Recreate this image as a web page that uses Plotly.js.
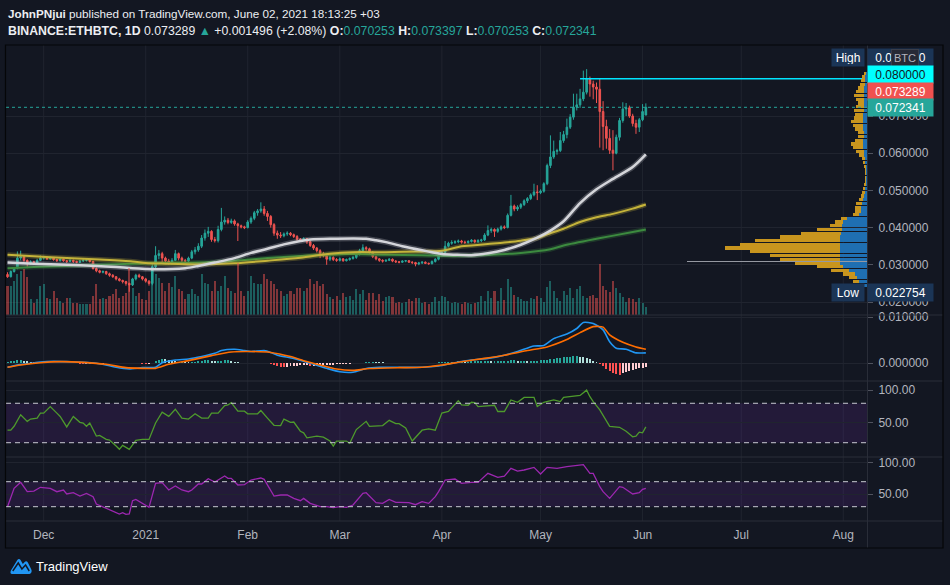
<!DOCTYPE html>
<html><head><meta charset="utf-8">
<script src="https://cdn.plot.ly/plotly-3.0.1.min.js"></script>
<style>html,body{margin:0;padding:0;background:#131722;}#chart{width:950px;height:585px;}</style>
</head><body><div id="chart"></div>
<script>
// ---------- DATA ----------
const startDate = '2020-11-20';   // first daily candle
const open = [
0.0274,0.0268,0.0282,0.0291,0.0318,0.0322,0.0312,0.0303,0.0308,0.0305,
0.0312,0.0318,0.0320,0.0316,0.0319,0.0314,0.0311,0.0315,0.0311,0.0309,
0.0312,0.0309,0.0307,0.0310,0.0312,0.0313,0.0309,0.0290,0.0284,0.0280,
0.0282,0.0276,0.0272,0.0268,0.0262,0.0258,0.0255,0.0250,0.0246,0.0262,
0.0272,0.0268,0.0262,0.0256,0.0250,0.0295,0.0325,0.0330,0.0318,0.0310,
0.0308,0.0312,0.0330,0.0318,0.0312,0.0310,0.0318,0.0335,0.0340,0.0350,
0.0372,0.0385,0.0390,0.0368,0.0365,0.0395,0.0415,0.0420,0.0414,0.0418,
0.0410,0.0405,0.0402,0.0400,0.0415,0.0425,0.0440,0.0445,0.0450,0.0438,
0.0430,0.0408,0.0385,0.0380,0.0378,0.0383,0.0385,0.0381,0.0376,0.0369,
0.0367,0.0370,0.0362,0.0352,0.0345,0.0338,0.0330,0.0325,0.0315,0.0320,
0.0314,0.0312,0.0316,0.0311,0.0314,0.0317,0.0320,0.0328,0.0338,0.0346,
0.0343,0.0334,0.0322,0.0316,0.0312,0.0310,0.0312,0.0315,0.0310,0.0308,
0.0307,0.0310,0.0311,0.0307,0.0306,0.0302,0.0305,0.0307,0.0304,0.0303,
0.0309,0.0315,0.0325,0.0334,0.0350,0.0358,0.0360,0.0362,0.0364,0.0361,
0.0360,0.0363,0.0366,0.0362,0.0365,0.0367,0.0380,0.0392,0.0395,0.0390,
0.0396,0.0402,0.0400,0.0433,0.0458,0.0450,0.0455,0.0462,0.0472,0.0478,
0.0488,0.0496,0.0494,0.0498,0.0518,0.0567,0.0590,0.0605,0.0607,0.0634,
0.0650,0.0670,0.0697,0.0724,0.0730,0.0746,0.0764,0.0800,0.0786,0.0778,
0.0772,0.0712,0.0672,0.0640,0.0608,0.0600,0.0643,0.0688,0.0719,0.0722,
0.0700,0.0680,0.0670,0.0690,0.070253];
const high = [
0.0280,0.0285,0.0294,0.0336,0.0338,0.0326,0.0315,0.0312,0.0311,0.0316,
0.0325,0.0324,0.0323,0.0322,0.0321,0.0316,0.0318,0.0317,0.0313,0.0315,
0.0314,0.0311,0.0313,0.0316,0.0317,0.0315,0.0311,0.0293,0.0287,0.0285,
0.0284,0.0279,0.0275,0.0270,0.0265,0.0260,0.0257,0.0252,0.0265,0.0276,
0.0276,0.0270,0.0265,0.0259,0.0305,0.0350,0.0340,0.0335,0.0322,0.0316,
0.0318,0.0340,0.0333,0.0322,0.0316,0.0322,0.0340,0.0348,0.0358,0.0380,
0.0395,0.0402,0.0393,0.0375,0.0405,0.0453,0.0430,0.0426,0.0424,0.0422,
0.0413,0.0408,0.0405,0.0420,0.0430,0.0445,0.0450,0.0468,0.0458,0.0445,
0.0434,0.0412,0.0392,0.0388,0.0387,0.0390,0.0388,0.0384,0.0380,0.0372,
0.0374,0.0372,0.0365,0.0356,0.0348,0.0342,0.0335,0.0330,0.0325,0.0323,
0.0318,0.0320,0.0318,0.0317,0.0320,0.0324,0.0332,0.0343,0.0355,0.0350,
0.0346,0.0337,0.0325,0.0318,0.0315,0.0315,0.0318,0.0317,0.0313,0.0310,
0.0312,0.0313,0.0313,0.0310,0.0308,0.0308,0.0310,0.0309,0.0306,0.0312,
0.0318,0.0328,0.0338,0.0364,0.0362,0.0366,0.0366,0.0368,0.0367,0.0365,
0.0366,0.0369,0.0368,0.0369,0.0370,0.0385,0.0406,0.0400,0.0398,0.0400,
0.0406,0.0406,0.0438,0.0488,0.0462,0.0460,0.0466,0.0476,0.0482,0.0492,
0.0518,0.0514,0.0503,0.0522,0.0572,0.0648,0.0634,0.0612,0.0657,0.0660,
0.0693,0.0705,0.0760,0.0760,0.0773,0.0822,0.0826,0.0806,0.0795,0.0790,
0.0800,0.0740,0.0690,0.0665,0.0662,0.0650,0.0695,0.0737,0.0735,0.0728,
0.0706,0.0690,0.0695,0.0732,0.073397];
const low = [
0.0265,0.0266,0.0279,0.0288,0.0312,0.0308,0.0291,0.0300,0.0301,0.0303,
0.0310,0.0314,0.0313,0.0314,0.0311,0.0308,0.0309,0.0308,0.0305,0.0307,
0.0305,0.0304,0.0305,0.0308,0.0309,0.0306,0.0287,0.0280,0.0277,0.0277,
0.0273,0.0268,0.0265,0.0258,0.0255,0.0250,0.0244,0.022754,0.0243,0.0258,
0.0265,0.0258,0.0252,0.0244,0.0245,0.0290,0.0315,0.0305,0.0305,0.0300,
0.0300,0.0310,0.0312,0.0305,0.0303,0.0306,0.0315,0.0328,0.0335,0.0345,
0.0365,0.0375,0.0362,0.0360,0.0360,0.0390,0.0408,0.0409,0.0410,0.0405,
0.0364,0.0398,0.0396,0.0398,0.0410,0.0420,0.0432,0.0440,0.0432,0.0418,
0.0400,0.0378,0.0370,0.0372,0.0374,0.0378,0.0377,0.0372,0.0365,0.0362,
0.0364,0.0356,0.0348,0.0340,0.0333,0.0318,0.0320,0.0300,0.0310,0.0310,
0.0308,0.0309,0.0308,0.0309,0.0311,0.0314,0.0316,0.0325,0.0335,0.0338,
0.0330,0.0318,0.0312,0.0308,0.0306,0.0308,0.0310,0.0307,0.0305,0.0304,
0.0305,0.0307,0.0305,0.0302,0.0296,0.0299,0.0302,0.0302,0.0300,0.0301,
0.0306,0.0312,0.0322,0.0330,0.0347,0.0354,0.0356,0.0358,0.0357,0.0356,
0.0357,0.0360,0.0358,0.0359,0.0361,0.0364,0.0377,0.0386,0.0375,0.0386,
0.0392,0.0396,0.0398,0.0430,0.0444,0.0445,0.0450,0.0458,0.0466,0.0474,
0.0484,0.0474,0.0490,0.0494,0.0514,0.0560,0.0585,0.0596,0.0603,0.0628,
0.0640,0.0665,0.0690,0.0715,0.0722,0.0740,0.0758,0.0752,0.0745,0.0735,
0.0615,0.0608,0.0612,0.0598,0.0554,0.0597,0.0634,0.0682,0.0700,0.0695,
0.0672,0.0652,0.0657,0.0686,0.070253];
const close = [
0.0268,0.0282,0.0291,0.0318,0.0322,0.0312,0.0303,0.0308,0.0305,0.0312,
0.0318,0.0320,0.0316,0.0319,0.0314,0.0311,0.0315,0.0311,0.0309,0.0312,
0.0309,0.0307,0.0310,0.0312,0.0313,0.0309,0.0290,0.0284,0.0280,0.0282,
0.0276,0.0272,0.0268,0.0262,0.0258,0.0255,0.0250,0.0246,0.0262,0.0272,
0.0268,0.0262,0.0256,0.0250,0.0295,0.0325,0.0330,0.0318,0.0310,0.0308,
0.0312,0.0330,0.0318,0.0312,0.0310,0.0318,0.0335,0.0340,0.0350,0.0372,
0.0385,0.0390,0.0368,0.0365,0.0395,0.0415,0.0420,0.0414,0.0418,0.0410,
0.0405,0.0402,0.0400,0.0415,0.0425,0.0440,0.0445,0.0450,0.0438,0.0430,
0.0408,0.0385,0.0380,0.0378,0.0383,0.0385,0.0381,0.0376,0.0369,0.0367,
0.0370,0.0362,0.0352,0.0345,0.0338,0.0330,0.0325,0.0315,0.0320,0.0314,
0.0312,0.0316,0.0311,0.0314,0.0317,0.0320,0.0328,0.0338,0.0346,0.0343,
0.0334,0.0322,0.0316,0.0312,0.0310,0.0312,0.0315,0.0310,0.0308,0.0307,
0.0310,0.0311,0.0307,0.0306,0.0302,0.0305,0.0307,0.0304,0.0303,0.0309,
0.0315,0.0325,0.0334,0.0350,0.0358,0.0360,0.0362,0.0364,0.0361,0.0360,
0.0363,0.0366,0.0362,0.0365,0.0367,0.0380,0.0392,0.0395,0.0390,0.0396,
0.0402,0.0400,0.0433,0.0458,0.0450,0.0455,0.0462,0.0472,0.0478,0.0488,
0.0496,0.0494,0.0498,0.0518,0.0567,0.0590,0.0605,0.0607,0.0634,0.0650,
0.0670,0.0697,0.0724,0.0730,0.0746,0.0764,0.0800,0.0786,0.0778,0.0772,
0.0712,0.0672,0.0640,0.0608,0.0600,0.0643,0.0688,0.0719,0.0722,0.0700,
0.0680,0.0670,0.0690,0.0712,0.072341];
const volume = [
29,29,34,41,44,46,38,16,12,16, 29,31,17,16,24,17,14,12,17,17,
12,12,11,11,11,11,19,31,16,17, 16,19,21,26,17,19,22,47,27,19,
22,16,15,24,44,41,37,32,24,32, 28,39,26,24,16,21,26,21,19,41,
32,31,24,34,24,29,39,27,24,22, 52,24,19,24,39,32,31,31,41,36,
34,31,26,24,19,21,24,21,27,27, 24,27,36,31,34,29,31,21,18,16,
19,15,22,18,19,15,26,21,25,15, 22,22,15,21,14,18,19,18,12,13,
12,13,16,14,17,17,12,13,11,13, 18,14,19,18,14,12,13,12,11,13,
12,11,12,13,19,14,24,17,24,14, 27,15,36,28,20,18,16,14,14,17,
16,19,17,13,28,34,24,17,14,24, 20,27,17,26,29,19,17,19,20,17,
51,29,25,23,34,27,22,18,13,17, 16,13,17,12,8];

// moving averages: [day index, value]
const maWhiteIdx = [0,8,18,27,33,38,42,45,54,58,63,69,74,79,84,89,92,98,109,112,115,120,126,129,132,136,141,146,151,156,161,165,169,174,179,184,190,194];
const maWhiteVal = [0.0306,0.0303,0.0300,0.0297,0.0294,0.0291,0.0289,0.0288,0.0291,0.0297,0.0306,0.0318,0.0332,0.0343,0.0355,0.0364,0.0368,0.0370,0.0370,0.0366,0.0361,0.0350,0.0339,0.0334,0.0329,0.0327,0.0326,0.0331,0.0340,0.0354,0.0373,0.0392,0.0417,0.0466,0.0503,0.0531,0.0563,0.0597];
const maYellowIdx = [0,8,18,28,38,42,48,58,69,79,89,98,105,115,126,132,138,141,146,151,156,161,164,169,174,179,184,190,194];
const maYellowVal = [0.0327,0.0323,0.0318,0.0314,0.0309,0.0305,0.0303,0.0301,0.0304,0.0311,0.0319,0.0330,0.0334,0.0334,0.0336,0.0338,0.0350,0.0352,0.0356,0.0360,0.0365,0.0372,0.0382,0.0397,0.0415,0.0428,0.0437,0.0451,0.0462];
const maGreenIdx = [0,8,18,28,38,48,58,69,79,89,98,105,115,126,136,146,156,165,169,179,190,194];
const maGreenVal = [0.0291,0.0294,0.0297,0.0300,0.0303,0.0305,0.0306,0.0311,0.0318,0.0324,0.0328,0.0329,0.0327,0.0326,0.0324,0.0327,0.0332,0.0342,0.0352,0.0370,0.0388,0.0395];

// volume profile (visible range)
const vpPrice = [0.0245,0.0255,0.0265,0.0275,0.0285,0.0295,0.0305,0.0315,0.0325,0.0335,0.0345,0.0355,0.0365,0.0375,0.0385,0.0395,0.0405,0.0415,0.0425,0.0435,0.0445,0.0455,0.0465,0.0475,0.0485,0.0495,0.0505,0.0515,0.0525,0.0535,0.0545,0.0555,0.0565,0.0575,0.0585,0.0595,0.0605,0.0615,0.0625,0.0635,0.0645,0.0655,0.0665,0.0675,0.0685,0.0695,0.0705,0.0715,0.0725,0.0735,0.0745,0.0755,0.0765,0.0775,0.0785,0.0795,0.0805,0.0815];
const vpUp   = [6,8,10,12,18,24,27,27,27,27,27,27,27,27,26,25,25,24,20,8,6,6,5,4,3,2,2,1,1,1,1,1,1,2,2,3,3,4,4,4,3,3,4,4,4,4,4,3,3,3,3,3,3,3,2,2,2,1];
const vpDown = [4,6,8,12,18,26,45,60,70,90,115,100,85,60,40,25,12,8,6,6,6,6,6,4,3,3,2,2,1,1,1,1,2,2,3,5,8,10,12,8,6,6,8,10,12,9,8,10,8,6,8,10,8,6,5,4,3,2];
const pocPrice = 0.0308, pocVolume = 180;

// MACD (12,26,9)
const macdIdx = [0,3,7,10,14,18,23,27,31,33,37,41,45,47,51,55,59,63,65,69,72,74,78,80,82,87,92,97,101,105,109,113,119,126,131,136,141,146,151,155,160,163,166,170,173,175,178,181,183,185,188,191,194];
const macdVal = [-0.00094,-0.00043,-0.00007,0.00022,0.00036,0.00029,0.00014,-0.00007,-0.00058,-0.00094,-0.0013,-0.0010,-0.00094,0.00007,0.00065,0.00087,0.0014,0.0021,0.0027,0.0030,0.0027,0.0025,0.0027,0.0023,0.0017,0.0010,-0.00007,-0.00116,-0.0019,-0.0020,-0.0012,-0.00094,-0.00094,-0.00094,-0.00065,0.00007,0.00065,0.0010,0.0017,0.0025,0.0037,0.0038,0.0053,0.0063,0.0075,0.0088,0.0086,0.0072,0.0046,0.0032,0.0030,0.0022,0.0022];
const sigIdx = [0,4,10,16,23,30,36,41,45,49,55,62,68,74,80,86,90,95,100,105,110,119,126,132,138,145,151,158,164,170,174,178,181,183,187,191,194];
const sigVal = [-0.00094,-0.00043,0.00007,0.00029,0.00014,-0.00029,-0.00101,-0.00116,-0.00116,-0.00029,0.00051,0.0016,0.0024,0.0025,0.0023,0.0014,0.00051,-0.00043,-0.0013,-0.0016,-0.0012,-0.00101,-0.00094,-0.00043,0.00029,0.0010,0.0017,0.0027,0.0035,0.0051,0.0066,0.0079,0.0078,0.0061,0.0045,0.0035,0.0030];
// histogram, in units of 1e-4
const macdHist = [
2,4,5,6,6,5,4,3,
2,2,2,1.5,1.5,1,1,1,0.5,0.5,0.5,0.3,
-0.5,-1,-1.5,-2,-2,-2,-1.5,-1.5,-2,-1.5,-1,-1,-1,-0.5,-0.5,-0.3,
0.3,0.5,0.3,-0.5,-1,-1.5,-2,-1.5,1,
4,7,9,8,6,5,4,
3,3,2.5,2,2,3,4,5,6,6,5,4,4,5,6,6,5,3,
2,1,1,0.5,0.5,1,1,0.5,0,-0.5,
-2,-4,-6,-8,-9,-8,-7,-6,-6,-5,-5,-5,
-6,-6,-6,-5,-5,-5,-4,-4,-3,-3,-2,-2,-1.5,-1,-0.5,
0.5,1,2,3,3,2.5,2,1.5,1,1,0.5,0.5,0.5,0.3,0.3,0.3,0.3,0.3,0.5,0.5,0.5,0.5,0.5,1,1.5,
2,2.5,3,3,3,3.5,3.5,3,3,4,4,4,4.5,4.5,5,4,4,4,
4,4,5,6,6,5,5,5,4,4,5,5,6,7,
7,8,9,10,11,12,13,14,15,15,14,12,10,8,
5,2,
-3,-7,-12,-18,-21,-24,-26,-22,-19,-17,-15,-13,-11,-10,-9];

// Money Flow Index (green) and RSI (purple)
const mfiIdx = [0,1,2,4,6,7,9,10,11,13,15,16,18,20,22,23,24,25,27,28,30,31,33,34,35,37,39,41,43,45,47,49,51,53,55,57,59,61,62,64,66,67,68,70,72,73,76,77,79,81,83,84,86,87,89,90,91,94,96,98,99,100,103,104,106,109,110,114,116,118,119,121,123,126,128,130,132,134,137,138,140,141,142,143,148,149,151,153,155,157,160,161,163,166,168,169,174,176,177,178,180,183,186,188,190,191,192,193,194];
const mfiVal = [39,39,45,62.5,52.5,56,57.5,65,65,75,65,60,44,60,51,50,45,50,30,31,25,24,15,10,16,10,23.5,25,25,50,66.5,60,71,57.5,56,64,57.5,57.5,65,65,76.5,77.5,81,68,68,64,64,69,57.5,46.5,46,56,51,51.5,37.5,35,27.5,30,28.5,22.5,15,22.5,22.5,19,40,52.5,45,46,54,49,49,42.5,22.5,39,41,39,65,67.5,84,77.5,77,81.5,81,75,77,67.5,67.5,85,81.5,89,89,75,81.5,85,82.5,89,92,100,90,82.5,70,45,43.5,37.5,29,30,36,35,44];
const rsiIdx = [0,2,4,6,8,10,13,15,17,18,20,22,24,26,27,30,32,34,35,36,37,38,39,43,45,47,49,51,53,55,56,58,59,61,63,66,67,68,70,72,74,77,78,81,83,85,87,89,90,92,95,97,99,101,103,105,108,109,112,114,116,118,119,122,124,126,128,130,131,133,136,138,141,143,146,149,151,153,155,157,160,162,164,167,170,172,175,177,178,180,181,183,186,187,190,192,193,194];
const rsiVal = [30,59.3,69,54,55,61,59.3,54,56.7,50.3,52.4,47,51.3,46,34.3,27.3,23,18.3,20.4,17.7,18.3,39.6,41.7,29,67.3,68.4,56.7,63,56.7,54,56.7,66.3,66.3,74.8,69.5,79,75.3,75.3,64.7,65.2,72.7,75.9,73.7,47,48.7,48.7,43.3,39.6,43.3,35.3,30,30,28.4,30,29,32.7,51.3,52.4,36.4,35.3,41.7,36.9,36.9,36.4,33.2,38,35.3,46,54,72.7,74.3,67.3,68.9,68.9,83.3,76.9,79,91.3,87,88.7,92.9,82.3,92.9,91.3,94,95.6,97.2,83.3,83.3,62,54,43.3,62,61,50.3,52.4,57.7,59.3];

// drawing + header figures
const rayStartIdx = 174, rayLevel = 0.08;
const hdrPrice = 0.073289, hdrChange = 0.001496, hdrPct = 2.08;
const priceTicks = [0.02,0.03,0.04,0.05,0.06,0.07];
const monthTicks = ['2020-12-01','2021-01-01','2021-02-01','2021-03-01','2021-04-01','2021-05-01','2021-06-01','2021-07-01','2021-08-01'];
const monthText  = ['Dec','2021','Feb','Mar','Apr','May','Jun','Jul','Aug'];

// ---------- BUILD ----------
const t0 = Date.parse(startDate + 'T00:00:00Z');
const dates = open.map((_, i) => new Date(t0 + i * 864e5).toISOString().slice(0, 10));
const D = idx => idx.map(i => dates[i]);
const N = close.length - 1;
const TEAL = '#26a69a', RED = '#ef5350';
const FONT = 'Liberation Sans, Arial, sans-serif';
const px2x = px => (px - 6) / 861, py2y = py => (521 - py) / 476;

const volColors = close.map((c, i) => c >= open[i] ? 'rgba(38,166,154,0.5)' : 'rgba(239,83,80,0.5)');
const histColors = macdHist.map((v, i) => {
  const p = i > 0 ? macdHist[i - 1] : v;
  if (v >= 0) return v >= p ? '#26a69a' : '#b2dfdb';
  return v < p ? '#ff5252' : '#ffcdd2';
});

function maTraces(idx, val, color, glow, w) {
  return [
    {type:'scatter', mode:'lines', x:D(idx), y:val, xaxis:'x', yaxis:'y', line:{color:glow, width:w+3, shape:'spline', smoothing:0.8}, hoverinfo:'skip'},
    {type:'scatter', mode:'lines', x:D(idx), y:val, xaxis:'x', yaxis:'y', line:{color:color, width:w, shape:'spline', smoothing:0.8}, hoverinfo:'skip'}
  ];
}

const traces = [
  {type:'bar', x:dates, y:volume, xaxis:'x', yaxis:'y2', marker:{color:volColors}, width:0.62*864e5},
  {type:'candlestick', x:dates, open:open, high:high, low:low, close:close, xaxis:'x', yaxis:'y',
   increasing:{line:{color:TEAL, width:1}, fillcolor:TEAL},
   decreasing:{line:{color:RED, width:1}, fillcolor:RED}, whiskerwidth:0},
  ...maTraces(maGreenIdx, maGreenVal, '#3c8a3f', 'rgba(60,138,63,0.28)', 2),
  ...maTraces(maYellowIdx, maYellowVal, '#c4b33a', 'rgba(196,179,58,0.28)', 2),
  ...maTraces(maWhiteIdx, maWhiteVal, '#d4d5da', 'rgba(212,213,218,0.25)', 2.5),
  {type:'bar', orientation:'h', y:vpPrice, x:vpUp, xaxis:'x2', yaxis:'y', width:0.00088,
   marker:{color:'#1f6fb2', line:{width:0}}},
  {type:'bar', orientation:'h', y:vpPrice, x:vpDown, xaxis:'x2', yaxis:'y', width:0.00088,
   marker:{color:'#c8951e', line:{width:0}}},
  {type:'bar', orientation:'h', y:[pocPrice], x:[pocVolume], xaxis:'x2', yaxis:'y', width:0.00025,
   marker:{color:'#9598a1'}},
  {type:'scatter', mode:'lines', x:[dates[rayStartIdx], '2021-08-20'], y:[rayLevel, rayLevel], xaxis:'x', yaxis:'y',
   line:{color:'#00e5ff', width:1.5}},
  {type:'bar', x:dates, y:macdHist.map(v => v * 1e-4), xaxis:'x', yaxis:'y3', marker:{color:histColors}, width:0.6*864e5},
  {type:'scatter', mode:'lines', x:D(macdIdx), y:macdVal, xaxis:'x', yaxis:'y3', line:{color:'#2196f3', width:1.6, shape:'spline', smoothing:0.6}},
  {type:'scatter', mode:'lines', x:D(sigIdx), y:sigVal, xaxis:'x', yaxis:'y3', line:{color:'#ff6d00', width:1.6, shape:'spline', smoothing:0.6}},
  {type:'scatter', mode:'lines', x:D(mfiIdx), y:mfiVal, xaxis:'x', yaxis:'y4', line:{color:'#4e9a2c', width:1.3}},
  {type:'scatter', mode:'lines', x:D(rsiIdx), y:rsiVal, xaxis:'x', yaxis:'y5', line:{color:'#9c27b0', width:1.3}}
];

const shapes = [];
monthTicks.forEach(d => shapes.push({type:'line', xref:'x', yref:'paper', x0:d, x1:d, y0:0, y1:1, line:{color:'#20242f', width:1}, layer:'below'}));
// indicator bands
shapes.push({type:'rect', xref:'paper', yref:'y4', x0:0, x1:1, y0:20, y1:80, fillcolor:'rgba(126,50,194,0.15)', line:{width:0}, layer:'below'});
[20, 80].forEach(v => shapes.push({type:'line', xref:'paper', yref:'y4', x0:0, x1:1, y0:v, y1:v, line:{color:'#c8cad2', width:1, dash:'5px,4px'}}));
shapes.push({type:'rect', xref:'paper', yref:'y5', x0:0, x1:1, y0:30, y1:70, fillcolor:'rgba(126,50,194,0.15)', line:{width:0}, layer:'below'});
[30, 70].forEach(v => shapes.push({type:'line', xref:'paper', yref:'y5', x0:0, x1:1, y0:v, y1:v, line:{color:'#c8cad2', width:1, dash:'5px,4px'}}));
// last price dotted line
shapes.push({type:'line', xref:'paper', yref:'y', x0:0, x1:1, y0:close[N], y1:close[N], line:{color:TEAL, width:1, dash:'dot'}});
// pane separators & frame
const xr = px2x(943);
[315, 381, 457, 521].forEach(py => shapes.push({type:'line', xref:'paper', yref:'paper', x0:0, x1:xr, y0:py2y(py), y1:py2y(py), line:{color:'#2a2e39', width:1}}));
shapes.push({type:'line', xref:'paper', yref:'paper', x0:1.0006, x1:1.0006, y0:py2y(548), y1:1, line:{color:'#2a2e39', width:1}});
shapes.push({type:'rect', xref:'paper', yref:'paper', x0:-0.0006, x1:xr, y0:py2y(548), y1:py2y(45), line:{color:'#050608', width:1.2}, fillcolor:'rgba(0,0,0,0)'});

const f6 = v => v.toFixed(6);
const hiVal = Math.max(...high), loVal = Math.min(...low);
function box(text, py, bg, fg, pxLeft) {
  return {xref:'paper', yref:'paper', x:px2x(pxLeft), y:py2y(py), xanchor:'left', yanchor:'middle', showarrow:false,
    text:text, font:{family:FONT, size:12, color:fg}, bgcolor:bg, borderpad:2, width:61, height:13, align:'center'};
}
const tealSpan = s => '<span style="color:#26a69a">' + s + '</span>';
const annotations = [
  {xref:'paper', yref:'paper', x:0, y:py2y(13), xanchor:'left', yanchor:'middle', showarrow:false,
   text:'<b>JohnPNjui</b> published on TradingView.com, June 02, 2021 18:13:25 +03', font:{family:FONT, size:11.7, color:'#eceef2'}},
  {xref:'paper', yref:'paper', x:0, y:py2y(31), xanchor:'left', yanchor:'middle', showarrow:false,
   text:'<b>BINANCE:ETHBTC, 1D</b> ' + f6(hdrPrice) + ' ' + tealSpan('▲') + ' +' + f6(hdrChange) + ' (+' + hdrPct.toFixed(2) + '%) ' +
     '<b>O:</b>' + tealSpan(f6(open[N])) + ' <b>H:</b>' + tealSpan(f6(high[N])) + ' <b>L:</b>' + tealSpan(f6(low[N])) + ' <b>C:</b>' + tealSpan(f6(close[N])),
   font:{family:FONT, size:12.3, color:'#eceef2'}},
  {xref:'paper', yref:'paper', x:px2x(865), y:py2y(57.7), xanchor:'right', yanchor:'middle', showarrow:false,
   text:'High', font:{family:FONT, size:12, color:'#ffffff'}, bgcolor:'#1b3556', borderpad:2, width:28, height:13},
  box(f6(hiVal), 57.7, '#1b3556', '#ffffff', 867),
  {xref:'paper', yref:'paper', x:px2x(905), y:py2y(58), xanchor:'center', yanchor:'middle', showarrow:false,
   text:'BTC', font:{family:FONT, size:11, color:'#b2b5be'}, bgcolor:'#262a36', bordercolor:'#3a3e4a', borderwidth:1, borderpad:2},
  box(f6(rayLevel), 74.7, '#00ffff', '#131722', 867),
  box(f6(hdrPrice), 91.3, '#f0514f', '#ffffff', 867),
  box(f6(close[N]), 108, '#26a69a', '#ffffff', 867),
  {xref:'paper', yref:'paper', x:px2x(865), y:py2y(292), xanchor:'right', yanchor:'middle', showarrow:false,
   text:'Low', font:{family:FONT, size:12, color:'#ffffff'}, bgcolor:'#1b3556', borderpad:2, width:28, height:13},
  box(f6(loVal), 292, '#1b3556', '#ffffff', 867),
  {xref:'paper', yref:'paper', x:px2x(34), y:py2y(566), xanchor:'left', yanchor:'middle', showarrow:false,
   text:'TradingView', font:{family:FONT, size:13, color:'#ffffff'}}
];

const logo = 'data:image/svg+xml;utf8,' + encodeURIComponent(
  '<svg xmlns="http://www.w3.org/2000/svg" viewBox="0 0 24 20"><path d="M2 18 C0 18 0 15 2 13 L8 4 C9 2.5 10.5 2.5 11.5 4 L14 8 L16 6 C17 5 18.5 5 19.5 6.5 L23 13 C24.5 15.5 23 18 21 18 Z" fill="#2196f3"/><path d="M3 15 L9 7 L13 13 L17 9 L21 15" stroke="#131722" stroke-width="1.6" fill="none"/></svg>');

const yCommon = {side:'right', anchor:'x', showgrid:true, gridcolor:'#20242f', zeroline:false, showline:false,
  ticks:'outside', ticklen:5, tickcolor:'#50535e', tickfont:{family:FONT, size:12, color:'#b2b5be'}, ticklabelstandoff:3};

const layout = {
  width:950, height:585, paper_bgcolor:'#131722', plot_bgcolor:'#131722',
  margin:{l:6, r:83, t:45, b:64, pad:0}, showlegend:false, barmode:'stack', bargap:0,
  font:{family:FONT, color:'#b2b5be'},
  xaxis:{type:'date', range:['2020-11-19 13:00','2021-08-08 05:00'], domain:[0,1], anchor:'y5',
    tickvals:monthTicks, ticktext:monthText, showgrid:false, zeroline:false, showline:false,
    ticks:'', ticklabelstandoff:5, tickfont:{family:FONT, size:12, color:'#b2b5be'}, rangeslider:{visible:false}},
  xaxis2:{overlaying:'x', range:[861, 0], visible:false, anchor:'y', showgrid:false, zeroline:false},
  yaxis:Object.assign({}, yCommon, {domain:[py2y(315), 1], range:[0.01651, 0.08909], tickvals:priceTicks, tickformat:'.6f'}),
  yaxis2:{overlaying:'y', range:[0, 270], visible:false, showgrid:false, zeroline:false},
  yaxis3:Object.assign({}, yCommon, {domain:[py2y(381), py2y(315)], range:[-0.003913, 0.010435], tickvals:[0, 0.01], tickformat:'.6f'}),
  yaxis4:Object.assign({}, yCommon, {domain:[py2y(457), py2y(381)], range:[-1.75, 113.9], tickvals:[50, 100], tickformat:'.2f'}),
  yaxis5:Object.assign({}, yCommon, {domain:[0, py2y(457)], range:[7.1, 109.5], tickvals:[50, 100], tickformat:'.2f'}),
  shapes:shapes, annotations:annotations,
  images:[{source:logo, xref:'paper', yref:'paper', x:px2x(10), y:py2y(556), sizex:22/861, sizey:20/476, xanchor:'left', yanchor:'top', sizing:'stretch', layer:'above'}]
};

Plotly.newPlot('chart', traces, layout, {staticPlot:true, displayModeBar:false});
</script></body></html>
